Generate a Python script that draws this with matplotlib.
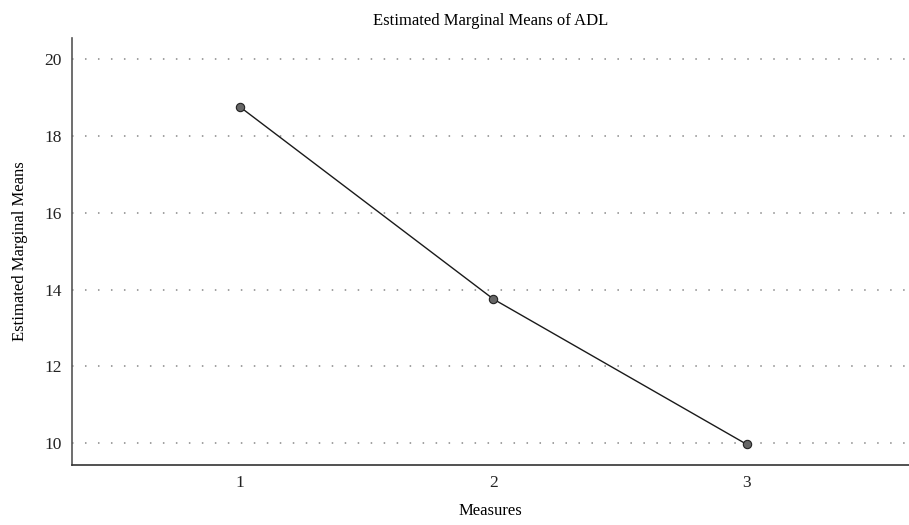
import matplotlib
matplotlib.use("Agg")
import matplotlib.pyplot as plt

# data
measures = [1, 2, 3]
means = [18.75, 13.75, 9.97]
y_ticks = [10, 12, 14, 16, 18, 20]

plt.rcParams['font.family'] = ['Liberation Serif', 'DejaVu Serif']

fig = plt.figure(figsize=(9.09, 5.25), dpi=100)
ax = fig.add_axes([0.079, 0.114, 0.921, 0.814])

ax.plot(measures, means, color='#1a1a1a', lw=1.0, marker='o', ms=6,
        mfc='#666666', mec='#222222', mew=0.8, zorder=3)

ax.set_xlim(0.336, 3.64)
ax.set_ylim(9.43, 20.55)
ax.set_xticks(measures)
ax.set_yticks(y_ticks)
ax.tick_params(length=0, labelsize=12.5, pad=7, colors='#222222')

for y in y_ticks:
    ax.axhline(y, color='#888888', lw=1.1, ls=(0, (1, 7.5)), zorder=1)

for s in ['top', 'right']:
    ax.spines[s].set_visible(False)
ax.spines['left'].set_color('#555555')
ax.spines['left'].set_linewidth(1.2)
ax.spines['bottom'].set_color('#333333')
ax.spines['bottom'].set_linewidth(1.2)

ax.set_title("Estimated Marginal Means of ADL", fontsize=12, pad=9)
ax.set_xlabel("Measures", fontsize=12, labelpad=9)
ax.set_ylabel("Estimated Marginal Means", fontsize=12, labelpad=12)

fig.savefig("out.png", dpi=100)
